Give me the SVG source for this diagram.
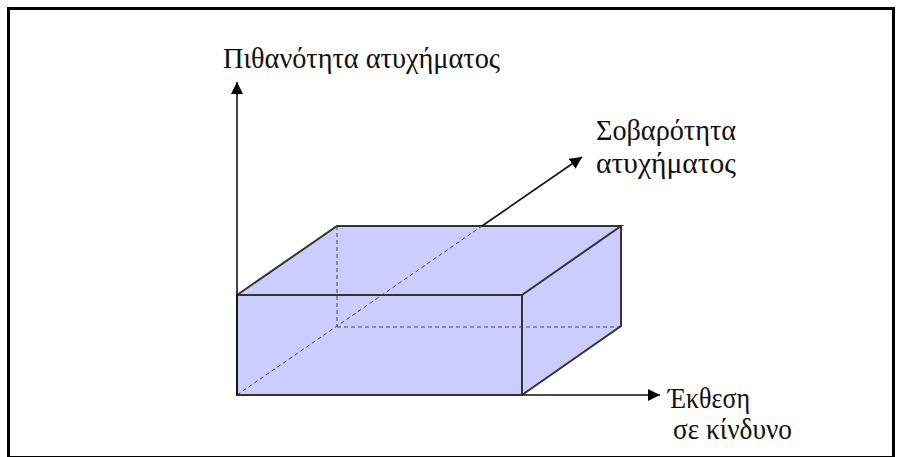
<svg xmlns="http://www.w3.org/2000/svg" width="900" height="457" viewBox="0 0 900 457">
<defs>
<marker id="arr" viewBox="0 0 10 10" refX="10" refY="5" markerWidth="12" markerHeight="12" markerUnits="userSpaceOnUse" orient="auto">
<path d="M0,0 L10,5 L0,10 z" fill="#000"/>
</marker>
</defs>
<style>
.face{fill:#ccccff;stroke:none}
.edge{stroke:#333;stroke-width:2;fill:none;stroke-linecap:round}
.hid{stroke:#444;stroke-width:1;fill:none;stroke-dasharray:4 3}
.axis{stroke:#111;stroke-width:1.6;fill:none}
.lbl{font-family:"Liberation Serif","Times New Roman",serif;font-size:29px;fill:#111}
</style>
<rect x="8.5" y="8.5" width="885" height="449" fill="#fff" stroke="#000" stroke-width="3"/>
<g id="box">
<polygon class="face" points="237,295 337,226 621,226 621,326 522,395 237,395"/>
<line class="hid" x1="337" y1="226" x2="337" y2="327"/>
<line class="hid" x1="337" y1="327" x2="621" y2="327"/>
<line class="hid" x1="237" y1="395" x2="482" y2="226"/>
<rect class="edge" x="237" y="295" width="285" height="100"/>
<polyline class="edge" points="237,295 337,226 621,226 522,295"/>
<polyline class="edge" points="621,226 621,326 522,395"/>
</g>
<g id="connectors">
<line class="axis" x1="237" y1="395" x2="237" y2="82" marker-end="url(#arr)"/>
<line class="axis" x1="522" y1="395" x2="660" y2="395" marker-end="url(#arr)"/>
<line class="axis" x1="482" y1="226" x2="582" y2="157" marker-end="url(#arr)"/>
</g>
<g id="label-probability"><text class="lbl" x="223" y="68" textLength="277" lengthAdjust="spacingAndGlyphs">Πιθανότητα ατυχήματος</text></g>
<g id="label-severity"><text class="lbl" x="596" y="140" textLength="140" lengthAdjust="spacingAndGlyphs">Σοβαρότητα</text><text class="lbl" x="596" y="173" textLength="140" lengthAdjust="spacingAndGlyphs">ατυχήματος</text></g>
<g id="label-exposure"><text class="lbl" x="668" y="408" textLength="82" lengthAdjust="spacingAndGlyphs">Έκθεση</text><text class="lbl" x="673" y="439" textLength="119" lengthAdjust="spacingAndGlyphs">σε κίνδυνο</text></g>
</svg>
